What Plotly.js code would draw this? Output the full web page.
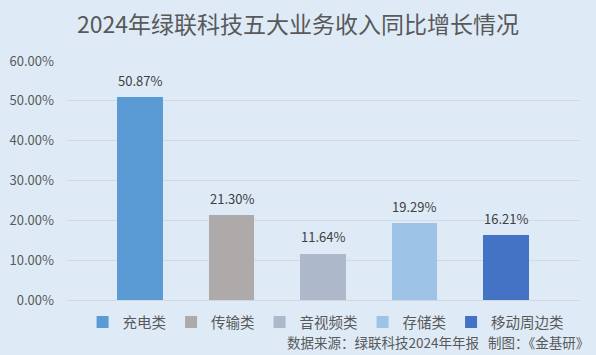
<!DOCTYPE html>
<html>
<head>
<meta charset="utf-8">
<script src="https://cdn.plot.ly/plotly-3.0.1.min.js"></script>
<style>html,body{margin:0;padding:0;background:#DEEBF7;}#chart{width:596px;height:355px;}</style>
</head>
<body>
<div id="chart"></div>
<script>
var categories = ['充电类', '传输类', '音视频类', '存储类', '移动周边类'];
var growth = [50.87, 21.30, 11.64, 19.29, 16.21];
var yTicks = [0, 10, 20, 30, 40, 50, 60];
var yTickLabels = ['0.00%', '10.00%', '20.00%', '30.00%', '40.00%', '50.00%', '60.00%'];
var colors = ['#5B9BD5', '#AEAAAA', '#ADB9CA', '#9DC3E6', '#4472C4'];

var FONT = '"Noto Sans CJK SC", "Noto Sans", sans-serif';
var traces = categories.map(function (c, i) {
  return {
    type: 'bar',
    name: c,
    x: [c],
    y: [growth[i]],
    marker: {color: colors[i]},
    hoverinfo: 'x+y'
  };
});

var annotations = categories.map(function (c, i) {
  return {
    x: c, y: growth[i], xref: 'x', yref: 'y',
    text: growth[i].toFixed(2) + '%',
    showarrow: false, yanchor: 'middle', yshift: 17,
    font: {family: FONT, size: 13, color: '#404040'}
  };
});
annotations.push({
  xref: 'paper', yref: 'paper', x: 1.024, y: -0.224,
  xanchor: 'right', yanchor: 'bottom',
  text: '数据来源：绿联科技2024年年报\u00a0\u00a0\u00a0制图：《金基研》',
  showarrow: false,
  font: {family: FONT, size: 13.5, color: '#595959'}
});

var layout = {
  width: 596, height: 355,
  paper_bgcolor: '#DEEBF7', plot_bgcolor: '#DEEBF7',
  margin: {l: 67, r: 17, t: 61, b: 55, pad: 0},
  barmode: 'stack',
  bargap: 0.5,
  font: {family: FONT, color: '#595959'},
  title: {
    text: '2024年绿联科技五大业务收入同比增长情况',
    x: 298 / 596, xanchor: 'center', xref: 'container',
    y: 1 - 25 / 355, yanchor: 'middle', yref: 'container',
    font: {family: FONT, size: 23, color: '#595959'}
  },
  xaxis: {
    type: 'category',
    categoryorder: 'array', categoryarray: categories,
    range: [-0.8, 4.8],
    showticklabels: false, showgrid: false, zeroline: false,
    showline: false, ticks: '', fixedrange: true
  },
  yaxis: {
    range: [0, 60],
    tickvals: yTicks, ticktext: yTickLabels,
    showgrid: true, gridcolor: '#D3D9E0', gridwidth: 1,
    zeroline: true, zerolinecolor: '#D3D9E0', zerolinewidth: 1,
    showline: false, ticks: '',
    ticklabelstandoff: 12,
    tickfont: {family: FONT, size: 13, color: '#595959'},
    fixedrange: true
  },
  showlegend: true,
  legend: {
    orientation: 'h',
    x: 0.505, xanchor: 'center',
    y: -0.092, yanchor: 'middle',
    font: {family: FONT, size: 14.5, color: '#595959'},
    bgcolor: 'rgba(0,0,0,0)',
    itemwidth: 30,
    traceorder: 'normal'
  },
  annotations: annotations
};

Plotly.newPlot('chart', traces, layout, {displayModeBar: false, staticPlot: true});
</script>
</body>
</html>
